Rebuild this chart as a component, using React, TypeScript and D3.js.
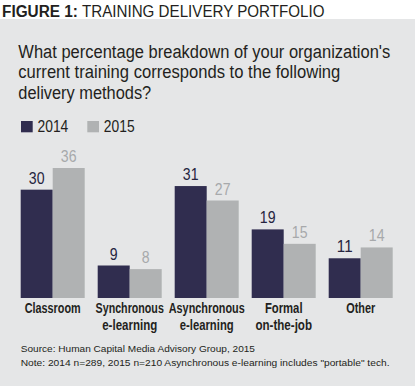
import React from "react";
import * as d3 from "d3";

const categories: string[][] = [
  ["Classroom"],
  ["Synchronous", "e-learning"],
  ["Asynchronous", "e-learning"],
  ["Formal", "on-the-job"],
  ["Other"],
];
const seriesNames = ["2014", "2015"];
const values2014 = [30, 9, 31, 19, 11];
const values2015 = [36, 8, 27, 15, 14];

const titleBold = "FIGURE 1:";
const titleRest = "TRAINING DELIVERY PORTFOLIO";
const questionLines = [
  "What percentage breakdown of your organization's",
  "current training corresponds to the following",
  "delivery methods?",
];
const sourceLine = "Source: Human Capital Media Advisory Group, 2015";
const noteLine =
  "Note: 2014 n=289, 2015 n=210  Asynchronous e-learning includes \"portable\" tech.";

const W = 415;
const H = 386;
const BG = "#e5e6e7";
const DARK = "#302d4f";
const LIGHT = "#b0b2b3";
const LIGHT_TEXT = "#a7a9ab";
const INK = "#231f20";
const FONT = "'Liberation Sans', Arial, Helvetica, sans-serif";
const questionWidths = [372, 322, 133];
const catWidths = [[56], [68.3], [76, 54], [37.7, 56.7], [29]];
catWidths[1].push(55);
const digitWidth = 7.85;

let measureCtx: CanvasRenderingContext2D | null = null;
function measure(text: string, size: number, bold: boolean): number {
  if (!measureCtx && typeof document !== "undefined") {
    measureCtx = document.createElement("canvas").getContext("2d");
  }
  if (!measureCtx) return text.length * size * 0.5;
  measureCtx.font = `${bold ? "bold " : ""}${size}px ${FONT}`;
  return measureCtx.measureText(text).width;
}

type FTProps = {
  x: number;
  y: number;
  w: number;
  size: number;
  bold?: boolean;
  fill?: string;
  anchor?: "start" | "middle" | "end";
  children: string;
};

function FitText({ x, y, w, size, bold, fill, anchor, children }: FTProps) {
  const natural = measure(children, size, !!bold);
  const sx = natural > 0 ? w / natural : 1;
  return (
    <text
      transform={`translate(${x},${y}) scale(${sx},1)`}
      x={0}
      y={0}
      fontFamily={FONT}
      fontSize={size}
      fontWeight={bold ? "bold" : "normal"}
      fill={fill || INK}
      textAnchor={anchor || "start"}
    >
      {children}
    </text>
  );
}

export default function App() {
  const keys = categories.map((c) => c.join(" "));
  const x0 = d3
    .scaleBand<string>()
    .domain(keys)
    .range([20.7, 392.7])
    .paddingInner(13 / 77)
    .paddingOuter(0);
  const x1 = d3
    .scaleBand<string>()
    .domain(seriesNames)
    .range([0, x0.bandwidth()])
    .padding(0);
  const y = d3.scaleLinear().domain([0, 36]).range([298, 168]);
  const colors = d3.scaleOrdinal<string, string>().domain(seriesNames).range([DARK, LIGHT]);
  const textColors = d3
    .scaleOrdinal<string, string>()
    .domain(seriesNames)
    .range(["#262440", LIGHT_TEXT]);
  const series = [values2014, values2015];

  return (
    <svg
      width={W}
      height={H}
      style={{ position: "absolute", left: 0, top: 0, display: "block" }}
    >
      <rect x={0} y={0} width={W} height={H} fill="#ffffff" />
      <rect x={0} y={19} width={W} height={H - 19} fill={BG} />
      <FitText x={2} y={17.3} w={76} size={17} bold>
        {titleBold}
      </FitText>
      <FitText x={82} y={17.3} w={243} size={17}>
        {titleRest}
      </FitText>
      {questionLines.map((l, i) => (
        <FitText key={i} x={18.3} y={57.5 + i * 20.5} w={questionWidths[i]} size={18.6}>
          {l}
        </FitText>
      ))}
      {seriesNames.map((s, i) => {
        const lx = i === 0 ? 21 : 87.3;
        return (
          <g key={s}>
            <rect x={lx} y={121} width={11.7} height={11.3} fill={colors(s)} />
            <FitText x={lx + 16.5} y={132.3} w={30.8} size={15.8}>
              {s}
            </FitText>
          </g>
        );
      })}
      {keys.map((k, ci) => (
        <g key={k} transform={`translate(${x0(k)},0)`}>
          {seriesNames.map((s, si) => {
            const v = series[si][ci];
            const bx = x1(s) as number;
            return (
              <g key={s}>
                <rect
                  x={bx}
                  y={y(v)}
                  width={x1.bandwidth()}
                  height={y(0) - y(v)}
                  fill={colors(s)}
                />
                <FitText
                  x={bx + x1.bandwidth() / 2}
                  y={y(v) - 6}
                  w={String(v).length * digitWidth}
                  size={16}
                  anchor="middle"
                  fill={textColors(s)}
                >
                  {String(v)}
                </FitText>
              </g>
            );
          })}
          {categories[ci].map((line, li) => (
            <FitText
              key={li}
              x={x0.bandwidth() / 2}
              y={313.2 + li * 16.3}
              w={catWidths[ci][li]}
              size={15}
              bold
              anchor="middle"
            >
              {line}
            </FitText>
          ))}
        </g>
      ))}
      <FitText x={20.7} y={352} w={235} size={9.8}>
        {sourceLine}
      </FitText>
      <FitText x={20.7} y={366} w={372.6} size={9.8}>
        {noteLine}
      </FitText>
    </svg>
  );
}
